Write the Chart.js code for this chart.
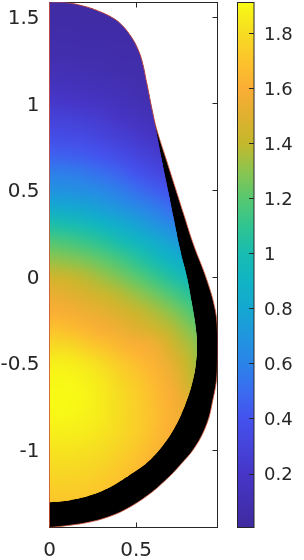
<!DOCTYPE html>
<html>
<head>
<meta charset="utf-8">
<style>
html,body{margin:0;padding:0;background:#fff;width:304px;height:560px;overflow:hidden}
canvas{position:absolute;top:0}
#main{left:0}
#bar{left:230px}
</style>
<script src="https://cdn.jsdelivr.net/npm/chart.js@4"></script>
</head>
<body>
<canvas id="main" width="230" height="560"></canvas>
<canvas id="bar" width="74" height="560"></canvas>
<script>
// Outer boundary
const outerX = [0,.099,.196,.292,.369,.417,.465,.504,.533,.562,.597,.620,.675,.724,.773,.829,.909,.957,.970,.970,.966,.943,.909,.841,.754,.677,.581,.465,.350,.234,.118,0];
const outerY = [1.585,1.582,1.563,1.530,1.492,1.453,1.395,1.328,1.251,1.116,.943,.846,.673,.519,.365,.191,-.021,-.194,-.328,-.45,-.58,-.714,-.849,-.984,-1.09,-1.17,-1.254,-1.331,-1.385,-1.418,-1.437,-1.45];
// Coloured region boundary
const innerX = [0,.099,.196,.292,.369,.417,.465,.504,.533,.562,.597,.615,.648,.683,.718,.754,.793,.822,.841,.851,.845,.828,.793,.745,.677,.581,.465,.350,.234,.118,0];
const innerY = [1.585,1.582,1.563,1.530,1.492,1.453,1.395,1.328,1.251,1.116,.943,.846,.673,.503,.33,.153,-.002,-.156,-.271,-.387,-.502,-.599,-.714,-.829,-.945,-1.058,-1.144,-1.216,-1.264,-1.292,-1.304];
// Left edge of the outline
const edgeX = [0,0];
const edgeY = [1.585,-1.45];
// Field value cells
const heatX = [0,.1,.2,.3,.4,.5,.6,.7,.8,.9];
const heatY = [1.6,1.5,1.4,1.3,1.2,1.1,1,.9,.8,.7,.6,.5,.4,.3,.2,.1,0,-.1,-.2,-.3,-.4,-.5,-.6,-.7,-.8,-.9,-1,-1.1,-1.2,-1.3,-1.4];
const heatZ = [
[.03,.03,.03,.03,.03,.03,.03,.03,.03,.03],
[.03,.03,.03,.03,.03,.03,.03,.03,.03,.03],
[.05,.05,.04,.04,.04,.03,.03,.03,.03,.03],
[.07,.07,.06,.06,.05,.05,.04,.04,.04,.04],
[.10,.10,.09,.08,.07,.06,.05,.05,.05,.05],
[.15,.14,.13,.12,.10,.08,.06,.05,.05,.05],
[.22,.21,.19,.17,.14,.11,.08,.06,.06,.06],
[.30,.29,.27,.24,.20,.16,.12,.09,.08,.08],
[.37,.36,.34,.31,.27,.23,.18,.14,.10,.10],
[.46,.45,.43,.40,.36,.31,.26,.21,.17,.15],
[.58,.57,.55,.51,.46,.40,.34,.29,.24,.20],
[.68,.67,.65,.62,.57,.51,.45,.39,.33,.28],
[.82,.80,.78,.74,.69,.63,.57,.50,.43,.37],
[1.02,1.0,.96,.90,.83,.77,.70,.62,.55,.47],
[1.18,1.16,1.12,1.07,1.0,.92,.84,.76,.68,.60],
[1.31,1.29,1.26,1.21,1.15,1.07,.98,.89,.80,.72],
[1.44,1.42,1.38,1.33,1.27,1.2,1.12,1.03,.94,.85],
[1.53,1.51,1.47,1.43,1.38,1.32,1.25,1.17,1.08,1.0],
[1.60,1.58,1.55,1.52,1.47,1.42,1.36,1.29,1.2,1.1],
[1.69,1.67,1.63,1.59,1.55,1.50,1.45,1.38,1.29,1.2],
[1.79,1.78,1.74,1.69,1.64,1.60,1.57,1.46,1.36,1.26],
[1.87,1.87,1.84,1.79,1.73,1.67,1.62,1.53,1.40,1.28],
[1.90,1.90,1.88,1.84,1.78,1.72,1.65,1.57,1.44,1.32],
[1.91,1.91,1.89,1.85,1.80,1.74,1.67,1.60,1.50,1.36],
[1.90,1.90,1.88,1.85,1.80,1.74,1.68,1.61,1.52,1.40],
[1.87,1.87,1.86,1.83,1.79,1.74,1.67,1.60,1.52,1.40],
[1.83,1.83,1.82,1.80,1.76,1.71,1.64,1.57,1.50,1.40],
[1.79,1.79,1.78,1.76,1.72,1.67,1.61,1.54,1.47,1.40],
[1.75,1.75,1.74,1.72,1.68,1.63,1.58,1.52,1.46,1.40],
[1.71,1.71,1.70,1.68,1.64,1.60,1.55,1.50,1.45,1.40],
[1.68,1.68,1.67,1.65,1.62,1.58,1.54,1.49,1.44,1.40]
];
// Axis ticks
const xTicks = [0,0.5];
const yTicks = [-1,-0.5,0,0.5,1,1.5];
const barTicks = [0.2,0.4,0.6,0.8,1,1.2,1.4,1.6,1.8];
// Colour scale
const cmapV = [0,.2,.4,.5,.6,.7,.8,.9,1,1.1,1.2,1.3,1.4,1.5,1.6,1.7,1.8,1.91];
const cmapC = ['#3f2a9f','#4636c8','#4452ee','#3a6cf0','#2a84e8','#2096de','#14a8d0','#10b4c4','#18bcb0','#30c490','#58c870','#8cc44e','#c4b82c','#e0b030','#fbae35','#fcc42c','#f6dc22','#f8fa15'];
const barRange = [0.004,1.911];

const FONT = 'DejaVu Sans';
const TEXT = '#262626';
const TENSION = 0.4;
const hex = c => [1,3,5].map(i => parseInt(c.substr(i,2),16));
function colorOf(v){
  if (v <= cmapV[0]) return hex(cmapC[0]);
  for (let i=1;i<cmapV.length;i++){
    if (v <= cmapV[i]){
      const t=(v-cmapV[i-1])/(cmapV[i]-cmapV[i-1]), a=hex(cmapC[i-1]), b=hex(cmapC[i]);
      return a.map((p,k)=>Math.round(p+(b[k]-p)*t));
    }
  }
  return hex(cmapC[cmapC.length-1]);
}
const css = a => 'rgb('+a.join(',')+')';

const cells = [], cellColors = [];
heatY.forEach((y,r)=>heatX.forEach((x,c)=>{
  cells.push({x,y});
  cellColors.push(css(colorOf(heatZ[r][c])));
}));
const toPts = (xs,ys)=>xs.map((x,i)=>({x,y:ys[i]}));

// same curve as the line element's tension, so outline and fill agree
function trace(ctx,pts){
  const n=pts.length;
  const cps=pts.map((p,i)=>{
    const a=pts[Math.max(i-1,0)], b=pts[Math.min(i+1,n-1)];
    const d1=Math.hypot(p.x-a.x,p.y-a.y), d2=Math.hypot(b.x-p.x,b.y-p.y), s=d1+d2||1;
    const f1=TENSION*d1/s, f2=TENSION*d2/s;
    return {ix:p.x-f1*(b.x-a.x),iy:p.y-f1*(b.y-a.y),ox:p.x+f2*(b.x-a.x),oy:p.y+f2*(b.y-a.y)};
  });
  ctx.beginPath();
  ctx.moveTo(pts[0].x,pts[0].y);
  for(let i=1;i<n;i++){
    ctx.bezierCurveTo(cps[i-1].ox,cps[i-1].oy,cps[i].ix,cps[i].iy,pts[i].x,pts[i].y);
  }
  ctx.closePath();
}
function frame(chart){
  const {ctx,chartArea:a,scales}=chart;
  ctx.save();
  ctx.strokeStyle=TEXT; ctx.lineWidth=1;
  ctx.strokeRect(a.left,a.top,a.right-a.left,a.bottom-a.top);
  ctx.beginPath();
  const L=5;
  xTicks.forEach(v=>{
    const p=Math.round(scales.x.getPixelForValue(v))+.5;
    ctx.moveTo(p,a.top);ctx.lineTo(p,a.top+L);
    ctx.moveTo(p,a.bottom);ctx.lineTo(p,a.bottom-L);
  });
  yTicks.forEach(v=>{
    const p=Math.round(scales.y.getPixelForValue(v))+.5;
    ctx.moveTo(a.left,p);ctx.lineTo(a.left+L,p);
    ctx.moveTo(a.right,p);ctx.lineTo(a.right-L,p);
  });
  ctx.stroke();
  ctx.restore();
}
const shapePlugin = {
  id:'shape',
  beforeDatasetsDraw(chart){
    frame(chart);
    const pts=chart.getDatasetMeta(0).data;
    chart.ctx.save();
    trace(chart.ctx,pts);
    chart.ctx.fillStyle='#000';
    chart.ctx.fill();
    chart.ctx.restore();
  },
  beforeDatasetDraw(chart,args){
    if(args.index!==2) return;
    chart.ctx.save();
    trace(chart.ctx,chart.getDatasetMeta(1).data);
    chart.ctx.clip();
  },
  afterDatasetDraw(chart,args){
    if(args.index!==2) return;
    const pts=args.meta.data, cols=heatX.length, rows=heatY.length;
    const off=document.createElement('canvas');
    off.width=cols; off.height=rows;
    const o=off.getContext('2d'), img=o.createImageData(cols,rows);
    heatZ.forEach((row,r)=>row.forEach((v,c)=>{
      const col=colorOf(v), k=(r*cols+c)*4;
      img.data[k]=col[0];img.data[k+1]=col[1];img.data[k+2]=col[2];img.data[k+3]=255;
    }));
    o.putImageData(img,0,0);
    const p0=pts[0], pN=pts[pts.length-1];
    const dx=(pN.x-p0.x)/(cols-1), dy=(pN.y-p0.y)/(rows-1);
    const ctx=chart.ctx;
    ctx.imageSmoothingEnabled=true;
    ctx.imageSmoothingQuality='high';
    ctx.drawImage(off,p0.x-dx/2,p0.y-dy/2,dx*cols,dy*rows);
    ctx.restore();
  }
};
const noPad = s => { s.paddingLeft=s.paddingRight=s.paddingTop=s.paddingBottom=0; };

new Chart(document.getElementById('main'),{
  type:'scatter',
  data:{datasets:[
    {data:toPts(outerX,outerY),showLine:true,pointRadius:0,borderColor:'#d9583a',borderWidth:.8,tension:TENSION,fill:false,order:0},
    {data:toPts(innerX,innerY),showLine:false,pointRadius:0,order:3},
    {data:cells,showLine:false,pointStyle:'rect',pointRadius:14,pointBorderWidth:0,pointBackgroundColor:cellColors,order:2,clip:false},
    {data:toPts(edgeX,edgeY),showLine:true,pointRadius:0,borderColor:'#d9583a',borderWidth:.8,order:1}
  ]},
  options:{
    responsive:false,animation:false,
    layout:{autoPadding:false,padding:{left:0,top:2.5,right:12.5,bottom:0}},
    plugins:{legend:{display:false},tooltip:{enabled:false}},
    scales:{
      x:{type:'linear',min:0,max:.97,
        grid:{display:false,drawTicks:false},border:{display:false},
        afterBuildTicks:s=>{s.ticks=xTicks.map(v=>({value:v}));},
        afterFit:s=>{s.height=32.5;noPad(s);},
        ticks:{font:{family:FONT,size:20},color:TEXT,padding:11,maxRotation:0,autoSkip:false,callback:v=>String(v)}
      },
      y:{type:'linear',min:-1.45,max:1.583,
        grid:{display:false,drawTicks:false},border:{display:false},
        afterBuildTicks:s=>{s.ticks=yTicks.map(v=>({value:v}));},
        afterFit:s=>{s.width=49.5;noPad(s);},
        ticks:{font:{family:FONT,size:20},color:TEXT,padding:10,labelOffset:2,autoSkip:false,callback:v=>String(v)}
      }
    }
  },
  plugins:[shapePlugin]
});

const barFrame = {
  id:'barFrame',
  afterDatasetsDraw(chart){
    const {ctx,chartArea:a,scales}=chart;
    ctx.save();
    ctx.strokeStyle=TEXT; ctx.lineWidth=1;
    ctx.strokeRect(a.left,a.top,a.right-a.left,a.bottom-a.top);
    ctx.beginPath();
    barTicks.forEach(v=>{
      const p=Math.round(scales.y.getPixelForValue(v))+.5;
      ctx.moveTo(a.right,p);ctx.lineTo(a.right-5,p);
    });
    ctx.stroke();
    ctx.restore();
  }
};
new Chart(document.getElementById('bar'),{
  type:'bar',
  data:{labels:[''],datasets:[{
    data:[barRange],
    barPercentage:1,categoryPercentage:1,borderWidth:0,
    backgroundColor(c){
      const {ctx,chartArea:a,scales}=c.chart;
      if(!a) return cmapC[0];
      const y=scales.y, t=y.getPixelForValue(barRange[1]), b=y.getPixelForValue(barRange[0]);
      const g=ctx.createLinearGradient(0,b,0,t);
      cmapV.forEach((v,i)=>{
        const f=(y.getPixelForValue(v)-b)/(t-b);
        g.addColorStop(Math.min(1,Math.max(0,f)),cmapC[i]);
      });
      return g;
    }
  }]},
  options:{
    responsive:false,animation:false,
    layout:{autoPadding:false,padding:{left:7.5,top:2.5,right:0,bottom:0}},
    plugins:{legend:{display:false},tooltip:{enabled:false}},
    scales:{
      x:{display:true,grid:{display:false,drawTicks:false},border:{display:false},
        ticks:{display:false},afterFit:s=>{s.height=32.5;noPad(s);}},
      y:{type:'linear',position:'right',min:barRange[0],max:barRange[1],
        grid:{display:false,drawTicks:false},border:{display:false},
        afterBuildTicks:s=>{s.ticks=barTicks.map(v=>({value:v}));},
        afterFit:s=>{s.width=50;noPad(s);},
        ticks:{font:{family:FONT,size:18},color:TEXT,padding:10,labelOffset:2,autoSkip:false,callback:v=>String(v)}
      }
    }
  },
  plugins:[barFrame]
});
</script>
</body>
</html>
